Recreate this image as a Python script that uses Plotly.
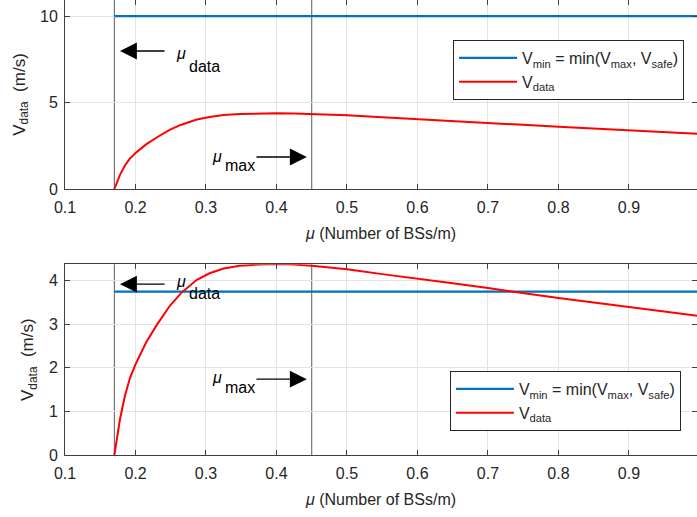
import plotly.graph_objects as go

# ---- data ----
mu = [0.170, 0.174, 0.178, 0.185, 0.192, 0.200, 0.207, 0.215, 0.230, 0.249,
      0.265, 0.287, 0.305, 0.325, 0.348, 0.375, 0.400, 0.425, 0.450, 0.500,
      0.550, 0.600, 0.650, 0.700, 0.750, 0.800, 0.850, 0.900, 0.950, 1.000]
v_data = [0.00, 0.42, 0.82, 1.36, 1.76, 2.08, 2.33, 2.58, 2.98, 3.43,
          3.72, 4.02, 4.17, 4.28, 4.34, 4.37, 4.38, 4.37, 4.34, 4.26,
          4.15, 4.05, 3.94, 3.83, 3.71, 3.60, 3.50, 3.39, 3.29, 3.19]
v_min_top = 10.0
v_min_bottom = 3.75
mu_data = 0.17
mu_max = 0.45
mu_end = 1.0
x_ticks = [0.1, 0.2, 0.3, 0.4, 0.5, 0.6, 0.7, 0.8, 0.9, 1.0]
y_ticks_top = [0, 5, 10]
y_ticks_bottom = [0, 1, 2, 3, 4]

FONT = "Liberation Sans, Arial, Helvetica, sans-serif"
BLUE = "#0072BD"
RED = "#FF0000"
AXC = "#404040"
GRID = "#E3E3E3"
VLINE = "#5a5a5a"
TXT = "#262626"

fig = go.Figure()

leg_min = "V<sub>min</sub> = min(V<sub>max</sub>, V<sub>safe</sub>)"
leg_data = "V<sub>data</sub>"

for xa, ya, lg, vmin in (("x", "y", "legend", v_min_top), ("x2", "y2", "legend2", v_min_bottom)):
    fig.add_trace(go.Scatter(x=[mu_data, mu_end], y=[vmin, vmin], mode="lines",
                             line=dict(color=BLUE, width=2.2), name=leg_min,
                             xaxis=xa, yaxis=ya, legend=lg))
    fig.add_trace(go.Scatter(x=mu, y=v_data, mode="lines", line=dict(color=RED, width=2),
                             name=leg_data, xaxis=xa, yaxis=ya, legend=lg))

# vertical marker lines
shapes = []
for xa, ya in (("x", "y"), ("x2", "y2")):
    for m in (mu_data, mu_max):
        shapes.append(dict(type="line", xref=xa, yref=ya + " domain", x0=m, x1=m, y0=0, y1=1,
                           line=dict(color=VLINE, width=1), layer="below"))

x_range = [0.1, 0.9965]

def xaxis(anchor):
    return dict(range=x_range, tickvals=x_ticks, ticktext=[f"{t:g}" for t in x_ticks],
                ticks="inside", ticklen=5, tickcolor=AXC, showline=True, linecolor=AXC, linewidth=1,
                mirror="ticks", showgrid=True, gridcolor=GRID, gridwidth=1, zeroline=False,
                tickfont=dict(family=FONT, size=16, color=TXT), anchor=anchor,
                ticklabelstandoff=4,
                title=dict(text="<i>μ</i> (Number of BSs/m)", font=dict(family=FONT, size=16, color=TXT),
                           standoff=12))

def yaxis(anchor, rng, ticks, domain):
    return dict(range=rng, tickvals=ticks, domain=domain,
                ticks="inside", ticklen=5, tickcolor=AXC, showline=True, linecolor=AXC, linewidth=1,
                mirror="ticks", showgrid=True, gridcolor=GRID, gridwidth=1, zeroline=False,
                tickfont=dict(family=FONT, size=16, color=TXT), anchor=anchor,
                ticklabelstandoff=3,
                title=dict(text="V<sub>data</sub>  (m/s)", font=dict(family=FONT, size=17, color=TXT),
                           standoff=10))

arrow_kw = dict(showarrow=True, arrowhead=2, arrowsize=2.6, arrowwidth=1.3, arrowcolor="black", text="")

def txt(x, y, xr, yr, s, size, italic=False):
    t = "<i>" + s + "</i>" if italic else s
    return dict(x=x, y=y, xref=xr, yref=yr, text=t, showarrow=False, xanchor="left", yanchor="middle",
                font=dict(family=FONT, size=size, color="black"))

annotations = [
    # top
    dict(x=0.178, y=7.98, ax=0.2433, ay=7.98, xref="x", yref="y", axref="x", ayref="y", **arrow_kw),
    dict(x=0.443, y=1.85, ax=0.3695, ay=1.85, xref="x", yref="y", axref="x", ayref="y", **arrow_kw),
    txt(0.254, 7.85, "x", "y", "μ", 16, True),
    txt(0.2725, 7.1, "x", "y", "data", 16),
    txt(0.305, 1.9, "x", "y", "μ", 16, True),
    txt(0.3235, 1.35, "x", "y", "max", 16),
    # bottom
    dict(x=0.178, y=3.92, ax=0.2433, ay=3.92, xref="x2", yref="y2", axref="x2", ayref="y2", **arrow_kw),
    dict(x=0.443, y=1.74, ax=0.3695, ay=1.74, xref="x2", yref="y2", axref="x2", ayref="y2", **arrow_kw),
    txt(0.254, 3.97, "x2", "y2", "μ", 16, True),
    txt(0.2725, 3.70, "x2", "y2", "data", 16),
    txt(0.305, 1.78, "x2", "y2", "μ", 16, True),
    txt(0.3235, 1.55, "x2", "y2", "max", 16),
]

legend_style = dict(bgcolor="white", bordercolor=TXT, borderwidth=1,
                    font=dict(family=FONT, size=16, color=TXT),
                    xanchor="left", yanchor="top", tracegroupgap=0, itemwidth=58)

fig.update_layout(
    width=697, height=517,
    margin=dict(l=65, r=0, t=0, b=62),
    paper_bgcolor="white", plot_bgcolor="white",
    showlegend=True,
    xaxis=xaxis("y"),
    yaxis=yaxis("x", [0, 10.93], y_ticks_top, [0.5846, 1.0]),
    xaxis2=xaxis("y2"),
    yaxis2=yaxis("x2", [0, 4.375], y_ticks_bottom, [0.0, 0.4191]),
    legend=dict(x=0.614, y=0.912, **legend_style),
    legend2=dict(x=0.609, y=0.1846, **legend_style),
    shapes=shapes,
    annotations=annotations,
)

fig.write_html("out.html")
